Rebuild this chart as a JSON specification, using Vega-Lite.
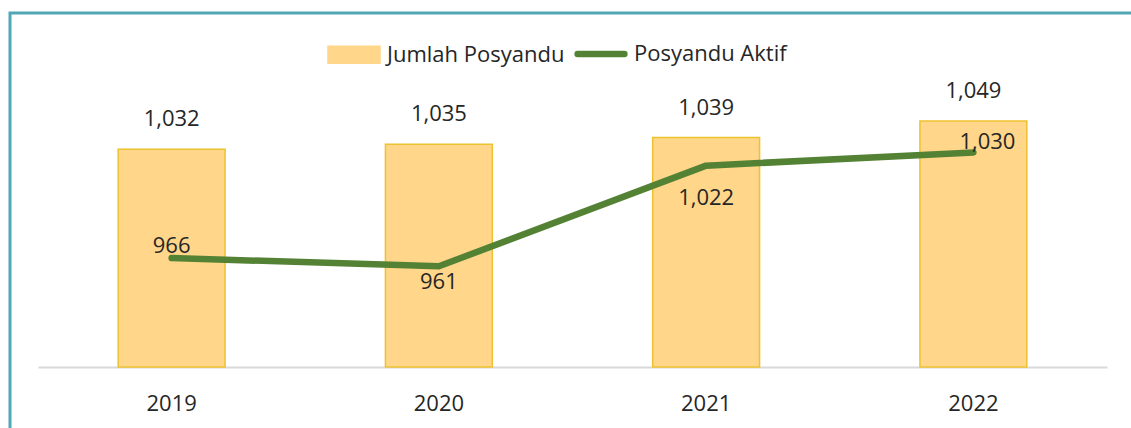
{
  "$schema": "https://vega.github.io/schema/vega-lite/v6.json",
  "width": 1121,
  "height": 415,
  "autosize": {"type": "none"},
  "padding": {"left": 10, "top": 13, "right": 0, "bottom": 0},
  "background": "#FFFFFF",
  "data": {
    "values": [
      {"Tahun": "2019", "Jumlah": 1032, "Aktif": 966},
      {"Tahun": "2020", "Jumlah": 1035, "Aktif": 961},
      {"Tahun": "2021", "Jumlah": 1039, "Aktif": 1022},
      {"Tahun": "2022", "Jumlah": 1049, "Aktif": 1030}
    ]
  },
  "encoding": {
    "x": {
      "field": "Tahun",
      "type": "nominal",
      "sort": "ascending",
      "scale": {"range": [28, 1097], "paddingInner": 0.6, "paddingOuter": 0.3},
      "axis": {
        "title": null,
        "labelAngle": 0,
        "offset": -61,
        "domainColor": "#D9D9D9",
        "domainWidth": 2,
        "ticks": false,
        "tickSize": 0,
        "labelPadding": 26,
        "labelFont": "Open Sans",
        "labelFontSize": 22,
        "labelColor": "#262626"
      }
    }
  },
  "layer": [
    {
      "mark": {"type": "bar", "stroke": "#EDC22F", "strokeWidth": 1.5},
      "encoding": {
        "y": {
          "field": "Jumlah",
          "type": "quantitative",
          "scale": {"domain": [863, 1114.5], "nice": false, "zero": false},
          "axis": null
        },
        "y2": {"datum": 900},
        "color": {
          "datum": "Jumlah Posyandu",
          "type": "nominal",
          "scale": {
            "domain": ["Jumlah Posyandu", "Posyandu Aktif"],
            "range": ["#FFD68A", "#548235"]
          },
          "legend": {
            "title": null,
            "orient": "none",
            "legendX": 333,
            "legendY": 30,
            "direction": "horizontal",
            "padding": 0,
            "symbolSize": 2704,
            "labelFont": "Open Sans",
            "labelFontSize": 22,
            "labelColor": "#262626",
            "labelOffset": 22,
            "columnPadding": -1,
            "labelLimit": 400,
            "encoding": {
              "symbols": {
                "shape": {"value": {"expr": "datum.value == 'Jumlah Posyandu' ? 'M-1,-0.33H1V0.33H-1Z' : 'M-0.9,0H0.9'"}},
                "fill": {"value": {"expr": "datum.value == 'Jumlah Posyandu' ? '#FFD68A' : 'transparent'"}},
                "stroke": {"value": {"expr": "datum.value == 'Jumlah Posyandu' ? '#EDC22F' : '#548235'"}},
                "strokeWidth": {"value": {"expr": "datum.value == 'Jumlah Posyandu' ? 1.5 : 6.5"}},
                "strokeCap": {"value": "round"},
                "opacity": {"value": 1}
              }
            }
          }
        }
      }
    },
    {
      "mark": {"type": "text", "dy": -23, "baseline": "alphabetic", "font": "Open Sans", "fontSize": 22, "color": "#262626"},
      "encoding": {
        "y": {"field": "Jumlah", "type": "quantitative", "axis": null},
        "text": {"field": "Jumlah", "type": "quantitative", "format": ","}
      }
    },
    {
      "mark": {"type": "line", "strokeWidth": 6.5, "strokeCap": "round", "strokeJoin": "round"},
      "encoding": {
        "y": {"field": "Aktif", "type": "quantitative", "axis": null},
        "color": {"datum": "Posyandu Aktif", "type": "nominal"}
      }
    },
    {
      "transform": [{"filter": "datum.Tahun == '2019'"}],
      "mark": {"type": "text", "dy": -5, "baseline": "alphabetic", "font": "Open Sans", "fontSize": 22, "color": "#262626"},
      "encoding": {
        "y": {"field": "Aktif", "type": "quantitative", "axis": null},
        "text": {"field": "Aktif", "type": "quantitative", "format": ","}
      }
    },
    {
      "transform": [{"filter": "datum.Tahun == '2020'"}],
      "mark": {"type": "text", "dy": 23, "baseline": "alphabetic", "font": "Open Sans", "fontSize": 22, "color": "#262626"},
      "encoding": {
        "y": {"field": "Aktif", "type": "quantitative", "axis": null},
        "text": {"field": "Aktif", "type": "quantitative", "format": ","}
      }
    },
    {
      "transform": [{"filter": "datum.Tahun == '2021'"}],
      "mark": {"type": "text", "dy": 39, "baseline": "alphabetic", "font": "Open Sans", "fontSize": 22, "color": "#262626"},
      "encoding": {
        "y": {"field": "Aktif", "type": "quantitative", "axis": null},
        "text": {"field": "Aktif", "type": "quantitative", "format": ","}
      }
    },
    {
      "transform": [{"filter": "datum.Tahun == '2022'"}],
      "mark": {"type": "text", "dx": 14, "dy": -3, "baseline": "alphabetic", "font": "Open Sans", "fontSize": 22, "color": "#262626"},
      "encoding": {
        "y": {"field": "Aktif", "type": "quantitative", "axis": null},
        "text": {"field": "Aktif", "type": "quantitative", "format": ","}
      }
    }
  ],
  "config": {
    "view": {"stroke": "#52A7B6", "strokeWidth": 3, "strokeDash": [1121, 1536, 415, 10]},
    "font": "Open Sans"
  }
}
